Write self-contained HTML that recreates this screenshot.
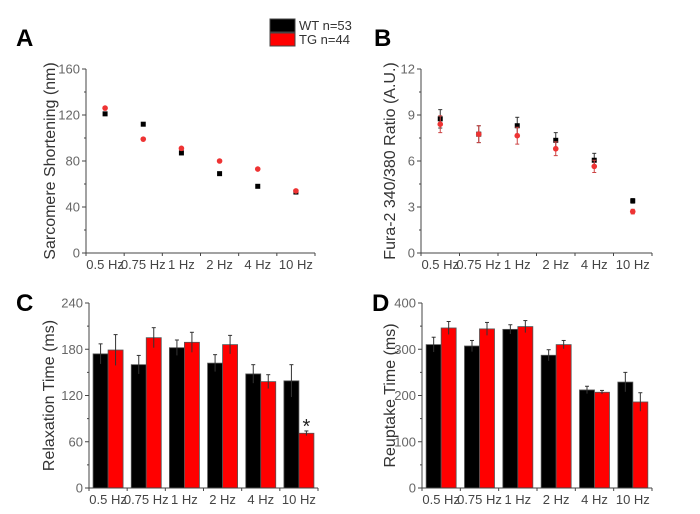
<!DOCTYPE html>
<html><head><meta charset="utf-8"><style>
body{margin:0;background:#fff;width:700px;height:509px;overflow:hidden}
svg{font-family:"Liberation Sans",Arial,sans-serif}
</style></head><body>
<svg id="fig" width="700" height="509">
<g>
<rect x="270" y="19" width="25" height="13" fill="#000" stroke="#444"/>
<text x="299" y="30" font-size="13" fill="#333">WT n=53</text>
<rect x="270" y="33" width="25" height="13" fill="#f00" stroke="#444"/>
<text x="299" y="44" font-size="13" fill="#333">TG n=44</text>
</g>
<text x="16" y="46" font-size="24" font-weight="bold">A</text>
<text x="374" y="46" font-size="24" font-weight="bold">B</text>
<text x="16" y="311" font-size="24" font-weight="bold">C</text>
<text x="372" y="311" font-size="24" font-weight="bold">D</text>
</svg>
<script>
const categories=["0.5 Hz","0.75 Hz","1 Hz","2 Hz","4 Hz","10 Hz"];
const aWT=[121,112,87,69,58,53];
const aTG=[126,99,91,80,73,54];
const aTicks=[0,40,80,120,160];
const bWT=[8.75,7.75,8.3,7.35,6.05,3.4];
const bTG=[8.4,7.75,7.65,6.8,5.65,2.7];
const bWTerr=[0.6,0.55,0.55,0.5,0.45,0.15];
const bTGerr=[0.55,0.55,0.55,0.45,0.4,0.15];
const bTicks=[0,3,6,9,12];
const cWT=[174,160,182,162,148,139];
const cTG=[179,195,189,186,138,71];
const cWTerr=[13,12,10,11,12,21];
const cTGerr=[20,13,13,12,9,3];
const cTicks=[0,60,120,180,240];
const dWT=[310,307,343,287,212,229];
const dTG=[346,344,349,310,207,186];
const dWTerr=[16,12,10,12,8,21];
const dTGerr=[14,14,13,9,4,20];
const dTicks=[0,100,200,300,400];

const svg=document.getElementById('fig');
const NS='http://www.w3.org/2000/svg';
function mk(tag,attrs,parent){const e=document.createElementNS(NS,tag);for(const k in attrs)e.setAttribute(k,attrs[k]);(parent||svg).appendChild(e);return e;}

function panel(id,x0,x1,yTop,yBot,ticks,ylabel,ylabX,mode,wt,tg,wtErr,tgErr){
  const g=mk('g',{});
  
  
  const maxV=ticks[ticks.length-1];
  const ys=v=>yBot-(v/maxV)*(yBot-yTop);
  const cw=(x1-x0)/categories.length;
  const xs=i=>x0+cw*(i+0.5);
  for(let i=0;i<categories.length;i++){
    const c=xs(i);
    if(mode==='bar'){
      const bw=15;
      const b1=mk('rect',{x:c-bw,y:ys(wt[i]),width:bw,height:yBot-ys(wt[i]),fill:'#000',stroke:'#555','stroke-width':0.8},g);
      
      
      const b2=mk('rect',{x:c,y:ys(tg[i]),width:bw,height:yBot-ys(tg[i]),fill:'#f00',stroke:'#555','stroke-width':0.8},g);
      
      
      [[c-bw/2,wt[i],wtErr[i],'#333'],[c+bw/2,tg[i],tgErr[i],'#333']].forEach(([ex,v,e,col])=>{
        mk('line',{x1:ex,x2:ex,y1:ys(v+e),y2:ys(v-e),stroke:col,'stroke-width':1},g);
        mk('line',{x1:ex-2,x2:ex+2,y1:ys(v+e),y2:ys(v+e),stroke:col,'stroke-width':1},g);
      });
    } else {
      [[wt,wtErr,'#000','wt'],[tg,tgErr,'#e33','tg']].forEach(([arr,err,col,nm])=>{
        if(err){
          const ec=col==='#000'?'#333':'#c44';
          mk('line',{x1:c,x2:c,y1:ys(arr[i]+err[i]),y2:ys(arr[i]-err[i]),stroke:ec,'stroke-width':1},g);
          mk('line',{x1:c-2,x2:c+2,y1:ys(arr[i]+err[i]),y2:ys(arr[i]+err[i]),stroke:ec},g);
          mk('line',{x1:c-2,x2:c+2,y1:ys(arr[i]-err[i]),y2:ys(arr[i]-err[i]),stroke:ec},g);
        }
        const p=nm==='wt'?mk('rect',{x:c-2.5,y:ys(arr[i])-2.5,width:5,height:5,fill:col},g):mk('circle',{cx:c,cy:ys(arr[i]),r:2.8,fill:col},g);
        
        
      });
    }
  }
  mk('line',{x1:x0,x2:x0,y1:yTop,y2:yBot,stroke:'#444','stroke-width':1},g);
  mk('line',{x1:x0,x2:x1,y1:yBot,y2:yBot,stroke:'#444','stroke-width':1},g);
  for(let k=0;k<ticks.length;k++){
    const y=ys(ticks[k]);
    mk('line',{x1:x0-4,x2:x0,y1:y,y2:y,stroke:'#444'},g);
    if(k<ticks.length-1){const ym=ys((ticks[k]+ticks[k+1])/2);mk('line',{x1:x0-2,x2:x0,y1:ym,y2:ym,stroke:'#444'},g);}
    const t=mk('text',{x:x0-6,y:y+4.5,'font-size':13,'text-anchor':'end',fill:'#666'},g);
    t.textContent=ticks[k];
    
    
  }
  for(let i=0;i<=categories.length;i++){
    const x=x0+cw*i;
    mk('line',{x1:x,x2:x,y1:yBot,y2:yBot+3,stroke:'#444'},g);
  }
  for(let i=0;i<categories.length;i++){
    const t=mk('text',{x:xs(i),y:yBot+16,'font-size':13,'text-anchor':'middle',fill:'#444'},g);
    t.textContent=categories[i];
    
    
  }
  const yl=mk('text',{x:0,y:0,'font-size':16,'text-anchor':'middle',fill:'#333',transform:`translate(${ylabX},${(yTop+yBot)/2}) rotate(-90)`},g);
  yl.textContent=ylabel;
  
  
  return {ys,xs};
}
panel('a',86,315,69,253,aTicks,'Sarcomere Shortening (nm)',55,'point',aWT,aTG,null,null);
panel('b',421,652,69,253,bTicks,'Fura-2 340/380 Ratio (A.U.)',395,'point',bWT,bTG,bWTerr,bTGerr);
const pc=panel('c',89,318,303,488,cTicks,'Relaxation Time (ms)',54,'bar',cWT,cTG,cWTerr,cTGerr);
panel('d',422,652,303,488,dTicks,'Reuptake Time (ms)',395,'bar',dWT,dTG,dWTerr,dTGerr);
const star=mk('text',{x:pc.xs(5)+7.5,y:pc.ys(cTG[5]+cTGerr[5])+2,'font-size':20,'text-anchor':'middle',fill:'#222'});
star.textContent='*';


</script>
</body></html>
